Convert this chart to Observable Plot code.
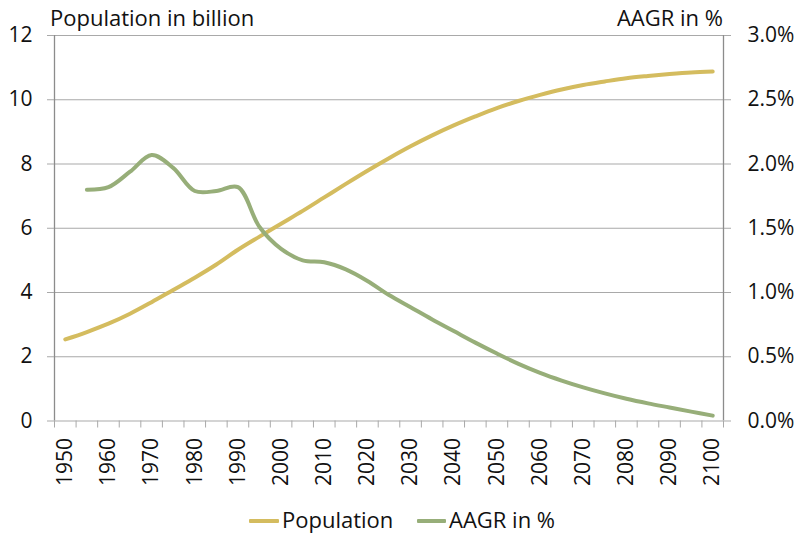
<!DOCTYPE html>
<html><head><meta charset="utf-8">
<script src="https://cdn.jsdelivr.net/npm/d3@7"></script>
<script src="https://cdn.jsdelivr.net/npm/@observablehq/plot@0.6"></script>
<style>
body{margin:0;background:#fff;font-family:"Open Sans",sans-serif;}
#wrap{position:relative;width:798px;height:533px;overflow:hidden;}
.t{position:absolute;font-size:22px;color:#111;line-height:1;white-space:nowrap;}
.sw{position:absolute;height:4px;border-radius:1px;}
</style></head><body>
<div id="wrap">
  <div id="chart"></div>
  <div class="t" style="left:50px;top:6px;">Population in billion</div>
  <div class="t" style="right:75px;top:6px;">AAGR in %</div>
  <div class="sw" style="left:249px;top:519px;width:30px;background:#d4bc5f;"></div>
  <div class="t" style="left:282px;top:508px;">Population</div>
  <div class="sw" style="left:417px;top:519px;width:29px;background:#97ae79;"></div>
  <div class="t" style="left:449px;top:508px;">AAGR in %</div>
</div>
<script>
const years = [1950,1955,1960,1965,1970,1975,1980,1985,1990,1995,2000,2005,2010,2015,2020,2025,2030,2035,2040,2045,2050,2055,2060,2065,2070,2075,2080,2085,2090,2095,2100];
const population = [2.54,2.77,3.03,3.34,3.70,4.08,4.46,4.87,5.33,5.74,6.14,6.54,6.96,7.38,7.79,8.18,8.55,8.89,9.20,9.48,9.74,9.96,10.15,10.32,10.46,10.57,10.67,10.74,10.80,10.85,10.88];
const aagrYears = years.slice(1);
const aagr = [1.80,1.82,1.94,2.07,1.97,1.79,1.79,1.82,1.51,1.34,1.25,1.235,1.18,1.09,0.98,0.885,0.79,0.70,0.61,0.525,0.445,0.375,0.315,0.262,0.215,0.173,0.137,0.105,0.073,0.042];
const leftTicks = [0,2,4,6,8,10,12];
const rightTicks = [0,0.5,1,1.5,2,2.5,3];
const labelYears = [1950,1960,1970,1980,1990,2000,2010,2020,2030,2040,2050,2060,2070,2080,2090,2100];
const edgeYears = d3.range(32).map(i => 1947.5 + 5*i);

const popData = years.map((y,i) => ({year:y, value:population[i]}));
const aagrData = aagrYears.map((y,i) => ({year:y, value:aagr[i]*4}));

const gridColor = "#a9a9a9";
const axisColor = "#8c8c8c";

const chart = Plot.plot({
  width: 798,
  height: 500,
  marginLeft: 54,
  marginRight: 75,
  marginTop: 35,
  marginBottom: 79.5,
  style: {fontFamily: "Open Sans, sans-serif", fontSize: "21px", color: "#111", background: "#fff"},
  x: {type: "linear", domain: [1947.5, 2102.5]},
  y: {domain: [0, 12]},
  marks: [
    Plot.ruleY(leftTicks, {stroke: gridColor, strokeWidth: 1.2}),
    Plot.ruleX([1947.5, 2102.5], {stroke: axisColor, strokeWidth: 1.3}),
    Plot.axisY({anchor: "left", ticks: leftTicks, tickSize: 7, tickPadding: 15, stroke: gridColor, fill: "#111", label: null, tickFormat: d => String(d)}),
    Plot.axisY({anchor: "right", ticks: rightTicks.map(v => v*4), tickSize: 7, tickPadding: 17, stroke: gridColor, fill: "#111", label: null, tickFormat: d => (d/4).toFixed(1) + "%"}),
    Plot.axisX({ticks: edgeYears, tickSize: 7, stroke: gridColor, tickFormat: () => "", label: null}),
    Plot.axisX({ticks: labelYears, tickSize: 0, tickPadding: 17, tickRotate: -90, fill: "#111", label: null, tickFormat: d => String(d)}),
    Plot.line(popData, {x: "year", y: "value", stroke: "#d4bc5f", strokeWidth: 4, curve: "catmull-rom"}),
    Plot.line(aagrData, {x: "year", y: "value", stroke: "#97ae79", strokeWidth: 4, curve: "catmull-rom"})
  ]
});
document.getElementById("chart").appendChild(chart);
</script>
</body></html>
